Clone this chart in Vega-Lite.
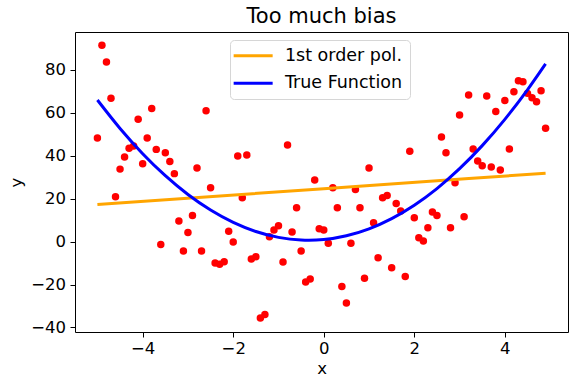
{
  "$schema": "https://vega.github.io/schema/vega-lite/v6.json",
  "width": 493,
  "height": 300,
  "autosize": {"type": "none"},
  "padding": {"left": 75, "top": 32, "right": 7, "bottom": 53},
  "background": "#ffffff",
  "config": {
    "font": "DejaVu Sans",
    "view": {"stroke": "#000000", "strokeWidth": 1},
    "axis": {
      "domain": false,
      "grid": false,
      "ticks": true,
      "tickColor": "#000000",
      "tickSize": 5,
      "tickWidth": 1,
      "labelFont": "DejaVu Sans",
      "labelFontSize": 16.5,
      "labelColor": "#000000",
      "titleFont": "DejaVu Sans",
      "titleFontSize": 16.5,
      "titleFontWeight": "normal",
      "titleColor": "#000000"
    }
  },
  "title": {
    "text": "Too much bias",
    "font": "DejaVu Sans",
    "fontSize": 21,
    "fontWeight": "normal",
    "color": "#000000",
    "anchor": "middle",
    "offset": 5
  },
  "datasets": {
    "points": [
      {"x": -5.0, "y": 48.3}, {"x": -4.9, "y": 91.5}, {"x": -4.8, "y": 83.7}, {"x": -4.7, "y": 66.8},
      {"x": -4.6, "y": 20.9}, {"x": -4.5, "y": 33.8}, {"x": -4.4, "y": 39.4}, {"x": -4.3, "y": 43.5},
      {"x": -4.2, "y": 44.6}, {"x": -4.1, "y": 57.0}, {"x": -4.0, "y": 36.3}, {"x": -3.9, "y": 48.3},
      {"x": -3.8, "y": 62.1}, {"x": -3.7, "y": 43.0}, {"x": -3.6, "y": -1.3}, {"x": -3.5, "y": 41.4},
      {"x": -3.4, "y": 37.4}, {"x": -3.3, "y": 31.7}, {"x": -3.2, "y": 9.6}, {"x": -3.1, "y": -4.4},
      {"x": -3.0, "y": 4.3}, {"x": -2.9, "y": 12.2}, {"x": -2.8, "y": 34.3}, {"x": -2.7, "y": -4.4},
      {"x": -2.6, "y": 61.0}, {"x": -2.5, "y": 25.1}, {"x": -2.4, "y": -10.0}, {"x": -2.3, "y": -10.5},
      {"x": -2.2, "y": -9.4}, {"x": -2.1, "y": 4.9}, {"x": -2.0, "y": -0.2}, {"x": -1.9, "y": 39.9},
      {"x": -1.8, "y": 20.5}, {"x": -1.7, "y": 40.4}, {"x": -1.6, "y": -8.1}, {"x": -1.5, "y": -7.0},
      {"x": -1.4, "y": -35.6}, {"x": -1.3, "y": -33.9}, {"x": -1.2, "y": 2.3}, {"x": -1.1, "y": 5.4},
      {"x": -1.0, "y": 7.4}, {"x": -0.9, "y": -9.5}, {"x": -0.8, "y": 45.0}, {"x": -0.7, "y": 4.5},
      {"x": -0.6, "y": 15.8}, {"x": -0.5, "y": -4.4}, {"x": -0.4, "y": -18.8}, {"x": -0.3, "y": -17.4},
      {"x": -0.2, "y": 28.7}, {"x": -0.1, "y": 6.0}, {"x": 0.0, "y": 5.4}, {"x": 0.1, "y": -0.7},
      {"x": 0.2, "y": 25.1}, {"x": 0.3, "y": 15.8}, {"x": 0.4, "y": -20.9}, {"x": 0.5, "y": -28.6},
      {"x": 0.6, "y": -0.7}, {"x": 0.7, "y": 24.3}, {"x": 0.8, "y": 15.8}, {"x": 0.9, "y": -17.1},
      {"x": 1.0, "y": 34.3}, {"x": 1.1, "y": 8.8}, {"x": 1.2, "y": -7.5}, {"x": 1.3, "y": 20.5},
      {"x": 1.4, "y": 21.5}, {"x": 1.5, "y": -12.2}, {"x": 1.6, "y": 17.8}, {"x": 1.7, "y": 14.3},
      {"x": 1.8, "y": -16.2}, {"x": 1.9, "y": 42.1}, {"x": 2.0, "y": 11.1}, {"x": 2.1, "y": 1.8},
      {"x": 2.2, "y": 0.3}, {"x": 2.3, "y": 6.5}, {"x": 2.4, "y": 13.8}, {"x": 2.5, "y": 12.2},
      {"x": 2.6, "y": 48.8}, {"x": 2.7, "y": 41.4}, {"x": 2.8, "y": 6.5}, {"x": 2.9, "y": 27.5},
      {"x": 3.0, "y": 59.0}, {"x": 3.1, "y": 11.6}, {"x": 3.2, "y": 68.3}, {"x": 3.3, "y": 43.2},
      {"x": 3.4, "y": 37.6}, {"x": 3.5, "y": 35.4}, {"x": 3.6, "y": 67.9}, {"x": 3.7, "y": 34.8},
      {"x": 3.8, "y": 60.6}, {"x": 3.9, "y": 33.4}, {"x": 4.0, "y": 65.8}, {"x": 4.1, "y": 43.2},
      {"x": 4.2, "y": 69.9}, {"x": 4.3, "y": 75.0}, {"x": 4.4, "y": 74.5}, {"x": 4.5, "y": 69.1},
      {"x": 4.6, "y": 67.1}, {"x": 4.7, "y": 65.2}, {"x": 4.8, "y": 70.3}, {"x": 4.9, "y": 52.8}
    ],
    "lines": [
      {"series": "1st order pol.", "x": -5.0, "y": 17.3},
      {"series": "1st order pol.", "x": 0.0, "y": 24.7},
      {"series": "1st order pol.", "x": 4.9, "y": 31.9},
      {"series": "True Function", "x": -5.0, "y": 66.0},
      {"series": "True Function", "x": -4.5, "y": 52.75},
      {"series": "True Function", "x": -4.0, "y": 41.0},
      {"series": "True Function", "x": -3.5, "y": 30.75},
      {"series": "True Function", "x": -3.0, "y": 22.0},
      {"series": "True Function", "x": -2.5, "y": 14.75},
      {"series": "True Function", "x": -2.0, "y": 9.0},
      {"series": "True Function", "x": -1.5, "y": 4.75},
      {"series": "True Function", "x": -1.0, "y": 2.0},
      {"series": "True Function", "x": -0.5, "y": 0.75},
      {"series": "True Function", "x": -0.33, "y": 0.67},
      {"series": "True Function", "x": 0.0, "y": 1.0},
      {"series": "True Function", "x": 0.5, "y": 2.75},
      {"series": "True Function", "x": 1.0, "y": 6.0},
      {"series": "True Function", "x": 1.5, "y": 10.75},
      {"series": "True Function", "x": 2.0, "y": 17.0},
      {"series": "True Function", "x": 2.5, "y": 24.75},
      {"series": "True Function", "x": 3.0, "y": 34.0},
      {"series": "True Function", "x": 3.5, "y": 44.75},
      {"series": "True Function", "x": 4.0, "y": 57.0},
      {"series": "True Function", "x": 4.5, "y": 70.75},
      {"series": "True Function", "x": 4.9, "y": 82.83}
    ]
  },
  "layer": [
    {
      "data": {"name": "points"},
      "mark": {"type": "circle", "color": "#ff0000", "size": 56, "opacity": 1},
      "encoding": {
        "x": {
          "field": "x", "type": "quantitative",
          "scale": {"domain": [-5.495, 5.395], "nice": false, "zero": false},
          "axis": {"title": "x", "values": [-4, -2, 0, 2, 4], "labelPadding": 3, "titlePadding": 4}
        },
        "y": {
          "field": "y", "type": "quantitative",
          "scale": {"domain": [-42.1, 97.7], "nice": false, "zero": false},
          "axis": {"title": "y", "values": [-40, -20, 0, 20, 40, 60, 80], "labelPadding": 4.5, "titlePadding": 6}
        }
      }
    },
    {
      "data": {"name": "lines"},
      "mark": {"type": "line", "strokeWidth": 3, "interpolate": "monotone"},
      "encoding": {
        "x": {"field": "x", "type": "quantitative"},
        "y": {"field": "y", "type": "quantitative"},
        "color": {
          "field": "series", "type": "nominal",
          "scale": {"domain": ["1st order pol.", "True Function"], "range": ["#ffa500", "#0000ff"]},
          "legend": {
            "title": null,
            "orient": "none",
            "legendX": 155,
            "legendY": 8,
            "symbolType": "M-3,0H3",
            "symbolSize": 169,
            "symbolStrokeWidth": 3,
            "symbolOffset": 7.4,
            "labelOffset": 23,
            "labelFont": "DejaVu Sans",
            "labelFontSize": 17.5,
            "labelColor": "#000000",
            "labelLimit": 300,
            "rowPadding": 8.5,
            "padding": 7,
            "fillColor": "#ffffff",
            "strokeColor": "#d6d6d6",
            "cornerRadius": 4
          }
        }
      }
    }
  ]
}
